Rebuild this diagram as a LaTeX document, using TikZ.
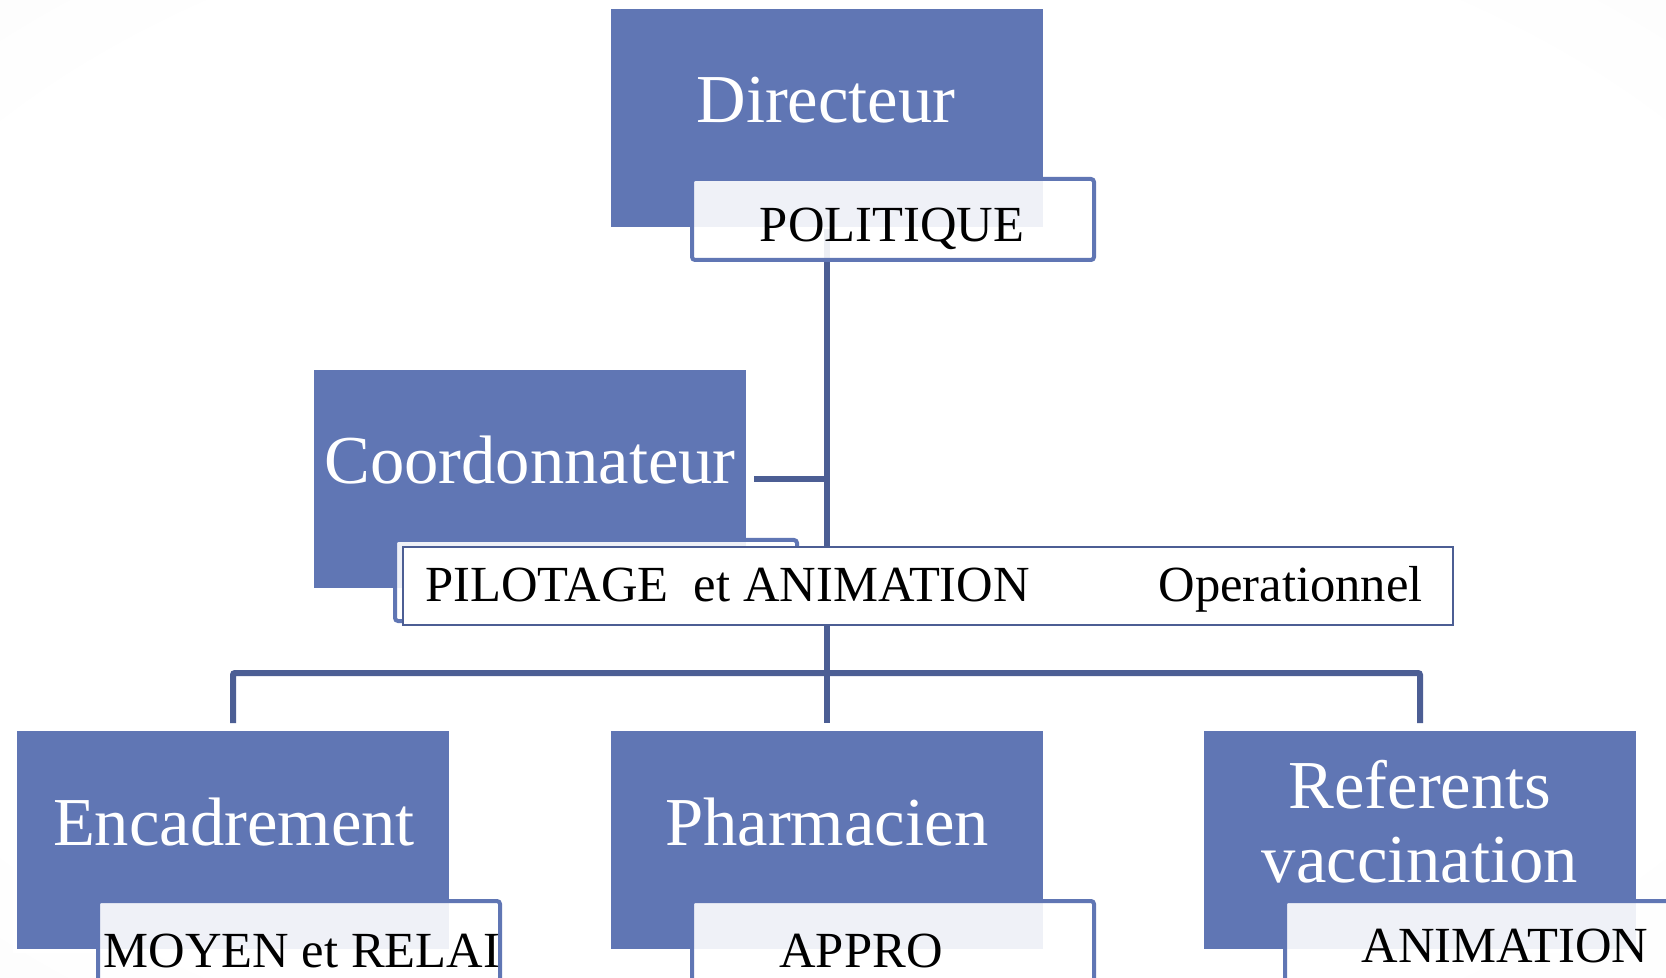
\documentclass[tikz,border=0pt]{standalone}
\usepackage{fontspec}
\setmainfont{Liberation Serif}
\usetikzlibrary{positioning}

\definecolor{boxblue}{RGB}{96,118,180}
\definecolor{lineblue}{RGB}{76,94,148}
\pgfdeclareradialshading{bgshade}{\pgfpoint{0bp}{0bp}}{color(0bp)=(white); color(30bp)=(white); color(50bp)=(black!3); color(72bp)=(black!5)}

\tikzset{
  bluebox/.style={fill=boxblue, draw=white, line width=2pt, minimum width=218pt, minimum height=111pt, inner sep=0pt, outer sep=0pt},
  txtbox/.style={draw=boxblue, line width=2pt, rounded corners=1.5pt, fill=white, fill opacity=0.9, minimum width=201pt, minimum height=40.5pt, inner sep=0pt, outer sep=0pt},
  widebox/.style={draw=lineblue, line width=1pt, fill=white, minimum width=525pt, minimum height=39pt, inner sep=0pt, outer sep=0pt},
  link/.style={draw=lineblue, line width=3pt},
  bigtxt/.style={text=white, font=\fontsize{34.3}{37}\selectfont, inner sep=0pt, anchor=base},
  smalltxt/.style={text=black, font=\fontsize{25.3}{28}\selectfont, inner sep=0pt, anchor=base},
}

\begin{document}
\begin{tikzpicture}[x=0.5pt,y=-0.5pt]
        \useasboundingbox (0,0) rectangle (1666,978);
        %Background
        \shade[shading=bgshade] (0,0) rectangle (1666,978);
        %Shape: Rectangle
        \node[bluebox] (dir) at (827,118) {};
        \node[bluebox] (coord) at (530,479) {};
        \node[bluebox] (enc) at (233,840) {};
        \node[bluebox] (phar) at (827,840) {};
        \node[bluebox] (ref) at (1420,840) {};
        %Straight Lines
        \coordinate (hub) at (827,673);
        \draw[link] (dir.south) -- ([yshift=3pt]phar.north);
        \draw[link] ([xshift=3pt]coord.east) -- (coord.east -| dir.south);
        \draw[link, rounded corners=1pt] ([yshift=3pt]enc.north) |- (hub) -| ([yshift=3pt]ref.north);
        %Shape: Text Box
        \node[txtbox, anchor=north west] (pol) at ([xshift=41.5pt,yshift=25pt]dir.south west) {};
        \node[txtbox, anchor=north west] (coordbox) at ([xshift=41.5pt,yshift=25pt]coord.south west) {};
        \node[txtbox, anchor=north west] (moy) at ([xshift=41.5pt,yshift=25pt]enc.south west) {};
        \node[txtbox, anchor=north west] (appro) at ([xshift=41.5pt,yshift=25pt]phar.south west) {};
        \node[txtbox, anchor=north west] (anim) at ([xshift=41.5pt,yshift=25pt]ref.south west) {};
        \node[widebox, anchor=north west] (pilot) at ([xshift=4pt,yshift=-3.5pt]coordbox.north west) {};
        % Text Node
        \node[bigtxt] (dirlbl) at (826,123) {Directeur};
        % Text Node
        \node[bigtxt] (coordlbl) at (530,484) {Coordonnateur};
        % Text Node
        \node[bigtxt] (enclbl) at (234,845) {Encadrement};
        % Text Node
        \node[bigtxt] (pharlbl) at (827,845) {Pharmacien};
        % Text Node
        \node[bigtxt, align=center] (reflbl) at (1420,882) {Referents\\vaccination};
        % Text Node
        \node[smalltxt] (pollbl) at (892,242) {POLITIQUE};
        % Text Node
        \node[smalltxt, anchor=base west] (pilotlbl) at (425,602) {PILOTAGE~~et ANIMATION};
        % Text Node
        \node[smalltxt, anchor=base east] (oplbl) at (1423,602) {Operationnel};
        % Text Node
        \node[smalltxt] (moylbl) at (302,967) {MOYEN et RELAI};
        % Text Node
        \node[smalltxt] (approlbl) at (861,967) {APPRO};
        % Text Node
        \node[smalltxt] (animlbl) at (1505,962) {ANIMATION};
\end{tikzpicture}
\end{document}
